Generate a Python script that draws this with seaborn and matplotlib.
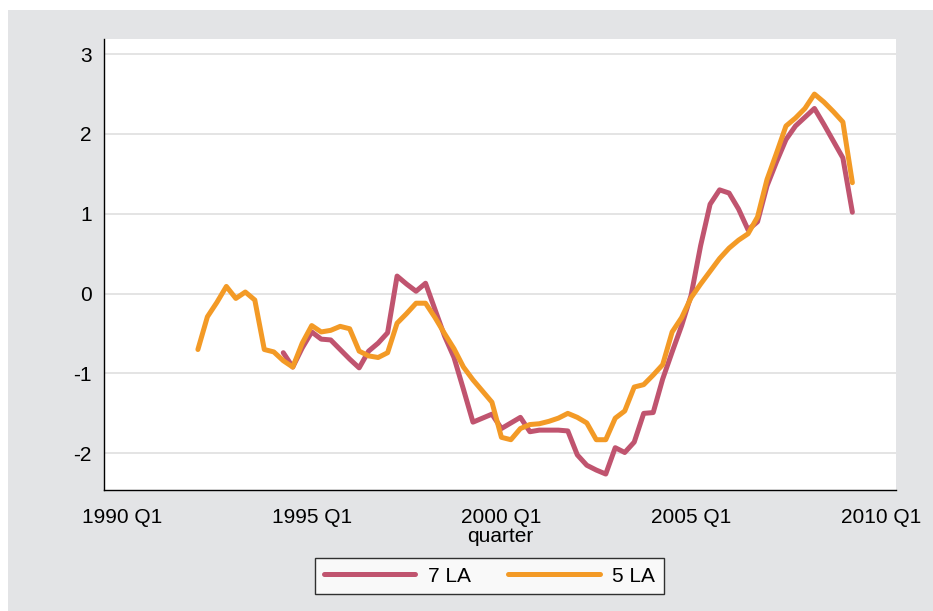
import pandas as pd
import matplotlib
matplotlib.use("Agg")
import matplotlib.pyplot as plt
import seaborn as sns
from matplotlib.patches import Rectangle

# series values, one per quarter
la7_start = "1994Q2"
la7 = [-0.74, -0.92, -0.68, -0.48, -0.57, -0.58, -0.70, -0.82, -0.93, -0.72,
       -0.62, -0.49, 0.22, 0.12, 0.03, 0.13, -0.20, -0.53, -0.80, -1.20,
       -1.61, -1.56, -1.51, -1.69, -1.62, -1.55, -1.73, -1.71, -1.71, -1.71,
       -1.72, -2.02, -2.15, -2.21, -2.26, -1.93, -1.99, -1.86, -1.50, -1.49,
       -1.07, -0.73, -0.40, -0.02, 0.60, 1.12, 1.30, 1.26, 1.06, 0.80,
       0.90, 1.35, 1.65, 1.93, 2.10, 2.21, 2.32, 2.12, 1.91, 1.70,
       1.02]

la5_start = "1992Q1"
la5 = [-0.70, -0.29, -0.11, 0.09, -0.06, 0.02, -0.08, -0.70, -0.73, -0.84,
       -0.92, -0.62, -0.40, -0.48, -0.46, -0.41, -0.44, -0.72, -0.78, -0.80,
       -0.74, -0.37, -0.25, -0.12, -0.12, -0.30, -0.50, -0.69, -0.92, -1.08,
       -1.22, -1.36, -1.80, -1.83, -1.69, -1.64, -1.63, -1.60, -1.56, -1.50,
       -1.55, -1.62, -1.83, -1.83, -1.56, -1.47, -1.17, -1.14, -1.02, -0.89,
       -0.48, -0.30, -0.05, 0.12, 0.28, 0.44, 0.57, 0.67, 0.75, 0.96,
       1.43, 1.76, 2.10, 2.20, 2.32, 2.50, 2.40, 2.28, 2.15, 1.39]

series_names = ["7 LA", "5 LA"]
tick_labels = ["1990 Q1", "1995 Q1", "2000 Q1", "2005 Q1", "2010 Q1"]
y_ticks = [-2, -1, 0, 1, 2, 3]

RED = "#c0546f"
ORANGE = "#f39a26"
BG = "#e3e4e6"


def q_index(label):
    # quarters since 1960Q1, like Stata's %tq
    year, q = label.split("Q")
    return (int(year) - 1960) * 4 + int(q) - 1


def make_frame(name, start, values):
    t0 = q_index(start)
    return pd.DataFrame({"t": [t0 + i for i in range(len(values))],
                         "value": values, "series": name})


df = pd.concat([make_frame("7 LA", la7_start, la7),
                make_frame("5 LA", la5_start, la5)], ignore_index=True)

sns.set_style("white")
plt.rcParams["font.family"] = ["Liberation Sans", "DejaVu Sans"]
plt.rcParams["axes.unicode_minus"] = False
plt.rcParams["text.color"] = "black"
plt.rcParams["xtick.color"] = "black"
plt.rcParams["ytick.color"] = "black"
plt.rcParams["axes.labelcolor"] = "black"

fig = plt.figure(figsize=(9.33, 6.11), dpi=100, facecolor="white")
fig.patches.append(Rectangle((8 / 933, 0), 1, 601 / 611, transform=fig.transFigure,
                             facecolor=BG, edgecolor="none", zorder=-10))

ax = fig.add_axes([104 / 933, 121 / 611, 792 / 933, 451 / 611])
ax.set_facecolor("white")

sns.lineplot(data=df, x="t", y="value", hue="series", hue_order=series_names,
             palette=[RED, ORANGE], linewidth=3.6, estimator=None, ax=ax)
for line in ax.lines:
    line.set_solid_capstyle("round")

handles, labels = ax.get_legend_handles_labels()
ax.get_legend().remove()
for h in handles:
    h.set_linewidth(3.6)
    h.set_solid_capstyle("round")

xt = [q_index(lbl.replace(" ", "")) for lbl in tick_labels]
ax.set_xticks(xt)
ax.set_xticklabels(tick_labels)
ax.set_yticks(y_ticks)
ax.set_yticklabels([str(v) for v in y_ticks])
ax.set_xlim(118.1, 201.6)
ax.set_ylim(-2.46, 3.19)

ax.yaxis.grid(True, color="#e2e2e2", linewidth=1.3)
ax.xaxis.grid(False)
ax.set_axisbelow(True)
sns.despine(ax=ax)
for side in ["left", "bottom"]:
    ax.spines[side].set_color("black")
    ax.spines[side].set_linewidth(1.0)

ax.tick_params(axis="x", direction="out", length=7, width=1, color="black",
               labelsize=15, pad=6)
ax.tick_params(axis="y", direction="out", length=6, width=1, color="black",
               labelsize=15, pad=3)
ax.set_xlabel("quarter", fontsize=15, labelpad=0)
ax.set_ylabel("")

leg = fig.legend(handles, labels, loc="center", bbox_to_anchor=(489.5 / 933, 35 / 611),
                 ncol=2, fontsize=15, frameon=True, fancybox=False,
                 handlelength=4.4, handletextpad=0.6, columnspacing=1.8,
                 borderpad=0.4, borderaxespad=0)
leg.get_frame().set_edgecolor("black")
leg.get_frame().set_linewidth(1.0)
leg.get_frame().set_facecolor("white")

fig.savefig("out.png", dpi=100, facecolor=fig.get_facecolor())
